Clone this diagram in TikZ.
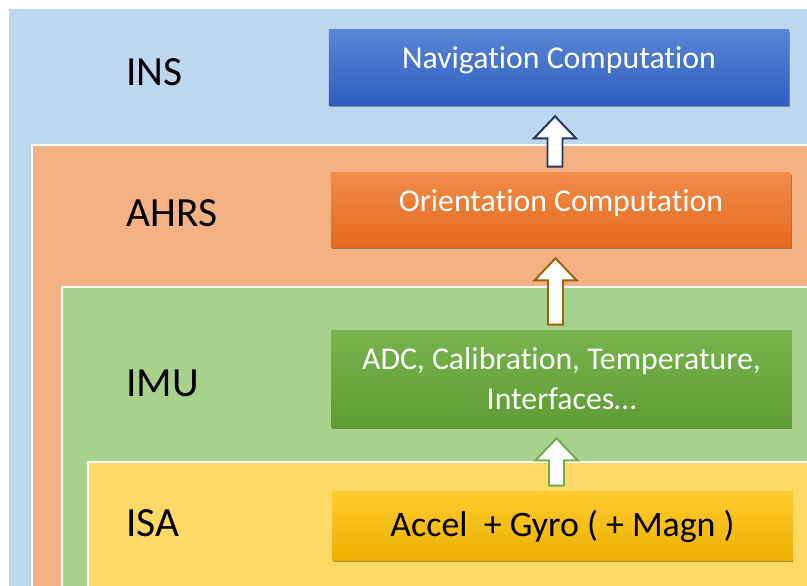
\documentclass[tikz,border=0pt]{standalone}
\usepackage{fontspec}
\setmainfont{Carlito}[RawFeature={-liga;-clig;-calt;-dlig}]
\usepackage{tikz}
\usetikzlibrary{calc,shadows}

\definecolor{insbg}{HTML}{BDD7EE}
\definecolor{ahrsbg}{HTML}{F4B183}
\definecolor{imubg}{HTML}{A9D18E}
\definecolor{isabg}{HTML}{FFD966}
\definecolor{navtop}{HTML}{5A86D6}
\definecolor{navbot}{HTML}{2F5EBE}
\definecolor{oritop}{HTML}{F28C4A}
\definecolor{oribot}{HTML}{E5691C}
\definecolor{imutop}{HTML}{78B44E}
\definecolor{imubot}{HTML}{5E9C34}
\definecolor{isatop}{HTML}{FFCB2E}
\definecolor{isabot}{HTML}{EDB000}
\definecolor{navline}{HTML}{1F3864}
\definecolor{oriline}{HTML}{9C6209}
\definecolor{imuline}{HTML}{6FAE48}

\tikzset{
	layer/.style={fill=#1, draw=white, line width=2pt},
	layerlabel/.style={inner sep=0pt, font=\fontsize{29.5}{32}\selectfont},
	box/.style={minimum width=11.5cm, inner sep=0pt, align=center,
		font=\fontsize{22.6}{28.5}\selectfont,
		drop shadow={shadow xshift=0.6pt, shadow yshift=-1.6pt, fill=black, opacity=0.35}},
	blockarrow/.style={draw=#1, fill=white, line width=1.4pt, line join=miter}
}

% #1 outline colour, #2 lower node, #3 upper node
\def\blockarrow[#1](#2)(#3){\draw[blockarrow=#1] let \p1=($(#2.north)+(-6,-6)$), \p2=($(#3.south)+(-6,11)$) in
	($(\x1,\y1)+(-7.5,0)$) -- ($(\x1,\y2)+(-7.5,22)$) -- ($(\x1,\y2)+(-21,22)$) -- (\x1,\y2)
	-- ($(\x1,\y2)+(21,22)$) -- ($(\x1,\y2)+(7.5,22)$) -- ($(\x1,\y1)+(7.5,0)$) -- cycle;}

\begin{document}
\begin{tikzpicture}[x=0.025cm, y=-0.025cm]
		%%%%% START %%%%%
		\useasboundingbox (0, 0) rectangle (807, 585);
		\clip (0, 0) rectangle (807, 585);
		
		% nested layers
		\draw[layer=insbg] (8, 8) rectangle (830, 610);
		\draw[layer=ahrsbg] (32, 145) rectangle (830, 610);
		\draw[layer=imubg] (62, 287) rectangle (830, 610);
		\draw[layer=isabg] (88, 462) rectangle (830, 610);
		
		\node[layerlabel, anchor=base west] (ins) at (126, 85) {INS};
		\node[layerlabel, anchor=base west] (ahrs) at (126, 226) {AHRS};
		\node[layerlabel, anchor=base west] (imu) at (126, 396) {IMU};
		\node[layerlabel, anchor=base west] (isa) at (126, 536) {ISA};
		
		% computation blocks
		\node[box, top color=navtop, bottom color=navbot, text=white, text height=0.95cm, text depth=0.925cm] (nav) at (559, 67.5) {Navigation Computation};
		\node[box, top color=oritop, bottom color=oribot, text=white, text height=0.95cm, text depth=0.9cm] (orient) at (561, 210) {Orientation Computation};
		\node[box, top color=imutop, bottom color=imubot, text=white, minimum height=2.4cm] (calib) at (561.5, 379) {ADC, Calibration, Temperature,\\Interfaces\dots};
		\node[box, top color=isatop, bottom color=isabot, text=black, minimum height=1.7cm, font=\fontsize{25.5}{30}\selectfont] (sensors) at (562.5, 526) {Accel\ \ + Gyro ( + Magn )};
		
		% arrows
		\blockarrow[navline](orient)(nav)
		\blockarrow[oriline](calib)(orient)
		\blockarrow[imuline](sensors)(calib)
		
		%%%%% END %%%%%
\end{tikzpicture}
\end{document}
